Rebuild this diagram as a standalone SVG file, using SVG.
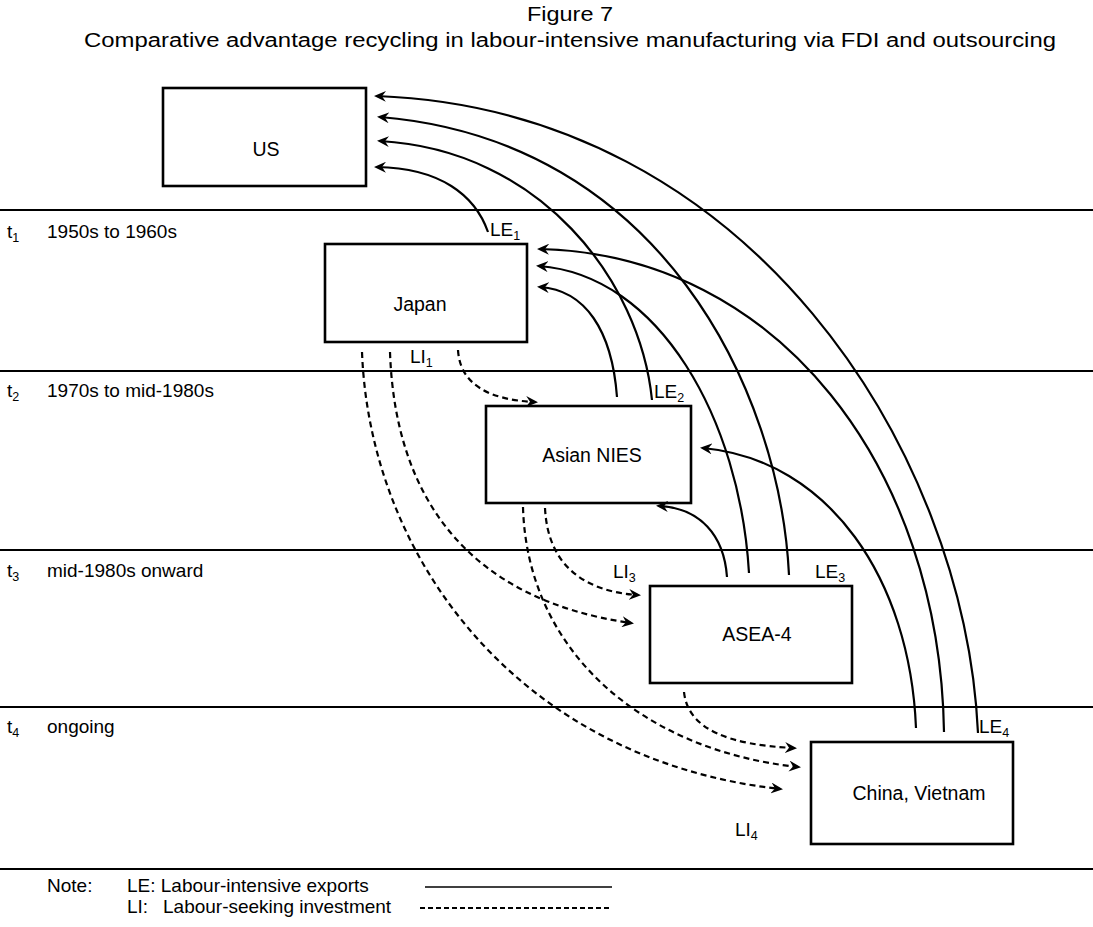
<svg xmlns="http://www.w3.org/2000/svg" width="1093" height="927" viewBox="0 0 1093 927">
<style>
text{font-family:"Liberation Sans",Arial,sans-serif;fill:#000}
.t{font-size:20px;text-anchor:middle}
.box{fill:none;stroke:#000;stroke-width:2.6}
.nl{font-size:19.5px;text-anchor:middle}
.lbl{font-size:19px}
.sub{font-size:12.5px}
.hl{stroke:#000;stroke-width:2.2}
.le{fill:none;stroke:#000;stroke-width:2.2;marker-end:url(#ah)}
.li{fill:none;stroke:#000;stroke-width:2.2;stroke-dasharray:6 4;marker-end:url(#ah)}
</style>
<defs>
<marker id="ah" viewBox="0 0 12 11" refX="9" refY="5.5" markerWidth="12" markerHeight="11" markerUnits="userSpaceOnUse" orient="auto">
<path d="M0,0 L12,5.5 L0,11 L4,5.5 z" fill="#000"/>
</marker>
</defs>
<rect width="1093" height="927" fill="#fff"/>
<g id="title">
<text class="t" x="570" y="21" textLength="86" lengthAdjust="spacingAndGlyphs">Figure 7</text>
<text class="t" x="570" y="47" textLength="972" lengthAdjust="spacingAndGlyphs">Comparative advantage recycling in labour-intensive manufacturing via FDI and outsourcing</text>
</g>
<g id="periods">
<line class="hl" x1="0" y1="210" x2="1093" y2="210"/>
<line class="hl" x1="0" y1="371" x2="1093" y2="371"/>
<line class="hl" x1="0" y1="550" x2="1093" y2="550"/>
<line class="hl" x1="0" y1="707" x2="1093" y2="707"/>
<line class="hl" x1="0" y1="869" x2="1093" y2="869"/>
<text class="lbl" x="7" y="238">t<tspan class="sub" dy="4">1</tspan></text>
<text class="lbl" x="47" y="238">1950s to 1960s</text>
<text class="lbl" x="7" y="397">t<tspan class="sub" dy="4">2</tspan></text>
<text class="lbl" x="47" y="397">1970s to mid-1980s</text>
<text class="lbl" x="7" y="577">t<tspan class="sub" dy="4">3</tspan></text>
<text class="lbl" x="47" y="577">mid-1980s onward</text>
<text class="lbl" x="7" y="733">t<tspan class="sub" dy="4">4</tspan></text>
<text class="lbl" x="47" y="733">ongoing</text>
</g>
<g id="node-us">
<rect class="box" x="163" y="88" width="203" height="98"/>
<text class="nl" x="266" y="156">US</text>
</g>
<g id="node-japan">
<rect class="box" x="325" y="244" width="202" height="98"/>
<text class="nl" x="420" y="311">Japan</text>
</g>
<g id="node-nies">
<rect class="box" x="486" y="406" width="205" height="97"/>
<text class="nl" x="592" y="462">Asian NIES</text>
</g>
<g id="node-asea">
<rect class="box" x="650" y="586" width="202" height="97"/>
<text class="nl" x="757" y="641">ASEA-4</text>
</g>
<g id="node-china">
<rect class="box" x="811" y="742" width="202" height="102"/>
<text class="nl" x="919" y="800">China, Vietnam</text>
</g>
<g id="connectors">
<path class="le" d="M488,232 C475,195 440,168 377,167"/>
<path class="le" d="M652,400 C640,280 540,150 380,141"/>
<path class="le" d="M789,575 C780,390 660,140 380,117"/>
<path class="le" d="M978,733 C965,450 750,110 377,96"/>
<path class="le" d="M617,397 C612,330 585,290 540,287"/>
<path class="le" d="M749,573 C740,420 660,275 539,266"/>
<path class="le" d="M944,732 C940,470 780,255 540,249"/>
<path class="le" d="M727,577 C724,535 700,508 659,506"/>
<path class="le" d="M916,728 C910,580 830,460 703,448"/>
<path class="li" d="M458,350 C460,385 490,400 535,402"/>
<path class="li" d="M390,352 C395,500 470,600 631,623"/>
<path class="li" d="M362,352 C370,560 520,760 780,789"/>
<path class="li" d="M545,508 C548,570 590,592 638,595"/>
<path class="li" d="M523,507 C527,650 640,750 798,767"/>
<path class="li" d="M684,692 C688,730 730,745 794,748"/>
</g>
<g id="flow-labels">
<text class="lbl" x="490" y="236">LE<tspan class="sub" dy="4">1</tspan></text>
<text class="lbl" x="410" y="363">LI<tspan class="sub" dy="4">1</tspan></text>
<text class="lbl" x="654" y="398">LE<tspan class="sub" dy="4">2</tspan></text>
<text class="lbl" x="613" y="578">LI<tspan class="sub" dy="4">3</tspan></text>
<text class="lbl" x="815" y="578">LE<tspan class="sub" dy="4">3</tspan></text>
<text class="lbl" x="979" y="733">LE<tspan class="sub" dy="4">4</tspan></text>
<text class="lbl" x="735" y="836">LI<tspan class="sub" dy="4">4</tspan></text>
</g>
<g id="legend">
<text class="lbl" x="47" y="892">Note:</text>
<text class="lbl" x="127" y="892">LE: Labour-intensive exports</text>
<text class="lbl" x="127" y="913">LI:</text>
<text class="lbl" x="163" y="913">Labour-seeking investment</text>
<line x1="425" y1="887" x2="612" y2="887" stroke="#000" stroke-width="1.6"/>
<line x1="420" y1="908" x2="612" y2="908" stroke="#000" stroke-width="2" stroke-dasharray="5 3"/>
</g>
</svg>
